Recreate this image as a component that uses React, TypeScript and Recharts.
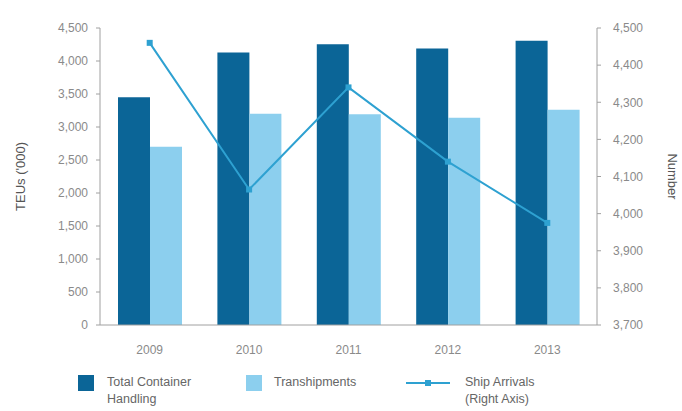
import { ComposedChart, Bar, Line, XAxis, YAxis, Legend } from 'recharts';

const years = ['2009', '2010', '2011', '2012', '2013'];
const totalHandling = [3450, 4130, 4255, 4190, 4305];
const transhipments = [2700, 3200, 3195, 3140, 3260];
const shipArrivals = [4460, 4065, 4340, 4140, 3975];

const leftTicks = [0, 500, 1000, 1500, 2000, 2500, 3000, 3500, 4000, 4500];
const rightTicks = [3700, 3800, 3900, 4000, 4100, 4200, 4300, 4400, 4500];

const DARK = '#0b6597';
const LIGHT = '#8ccfee';
const LINE = '#2ea1d1';
const AXIS = '#a0a0a0';
const TEXT = '#8a8a8a';

const data = years.map((year, i) => ({
  year,
  total: totalHandling[i],
  tranship: transhipments[i],
  arrivals: shipArrivals[i],
}));

const fmt = (v: number) => v.toLocaleString('en-US');

function SquareDot(props: any) {
  const { cx, cy } = props;
  if (cx == null || cy == null) return null;
  return <rect x={cx - 3} y={cy - 3} width={6} height={6} fill={LINE} />;
}

function ChartLegend() {
  const item = { display: 'flex', alignItems: 'flex-start', position: 'absolute' as const, top: 0 };
  const label = { fontSize: 12.5, color: '#666', lineHeight: '17px', marginTop: 1 };
  return (
    <div style={{ position: 'relative', width: 682, height: 38, fontFamily: 'Arial, "Liberation Sans", sans-serif' }}>
      <div style={{ ...item, left: 78 }}>
        <div style={{ width: 16, height: 16, background: DARK, marginTop: 2 }} />
        <div style={{ ...label, marginLeft: 13, width: 110 }}>Total Container Handling</div>
      </div>
      <div style={{ ...item, left: 246 }}>
        <div style={{ width: 16, height: 16, background: LIGHT, marginTop: 2 }} />
        <div style={{ ...label, marginLeft: 12 }}>Transhipments</div>
      </div>
      <div style={{ ...item, left: 406 }}>
        <svg width={44} height={20}>
          <line x1={0} y1={10} x2={44} y2={10} stroke={LINE} strokeWidth={2} />
          <rect x={19} y={7} width={6} height={6} fill={LINE} />
        </svg>
        <div style={{ ...label, marginLeft: 15, width: 90 }}>Ship Arrivals (Right Axis)</div>
      </div>
    </div>
  );
}

export default function App() {
  return (
    <div style={{ position: 'absolute', left: 0, top: 0, width: 682, height: 411, background: '#fff' }}>
      <ComposedChart
        width={682}
        height={411}
        data={data}
        margin={{ top: 28, right: 35, left: 40, bottom: 6 }}
        barCategoryGap={18}
        barGap={0}
        style={{ fontFamily: 'Arial, "Liberation Sans", sans-serif' }}
      >
        <XAxis
          dataKey="year"
          stroke={AXIS}
          tick={{ fill: TEXT, fontSize: 12 }}
          tickLine={false}
          tickMargin={14}
          height={42}
        />
        <YAxis
          yAxisId="left"
          orientation="left"
          width={60}
          domain={[0, 4500]}
          ticks={leftTicks}
          tickFormatter={fmt}
          stroke={AXIS}
          tick={{ fill: TEXT, fontSize: 12 }}
          tickSize={4}
          tickMargin={8}
          interval={0}
          label={{ value: "TEUs ('000)", angle: -90, position: 'insideLeft', offset: -20, style: { fill: '#555', fontSize: 13, textAnchor: 'middle' } }}
        />
        <YAxis
          yAxisId="right"
          orientation="right"
          width={50}
          domain={[3700, 4500]}
          ticks={rightTicks}
          tickFormatter={fmt}
          stroke={AXIS}
          tick={{ fill: TEXT, fontSize: 12 }}
          tickSize={4}
          tickMargin={12}
          interval={0}
          label={{ value: 'Number', angle: 90, position: 'insideRight', offset: -26, style: { fill: '#555', fontSize: 13, textAnchor: 'middle' } }}
        />
        <Legend verticalAlign="bottom" content={() => <ChartLegend />} wrapperStyle={{ left: 0, bottom: 0 }} />
        <Bar yAxisId="left" dataKey="total" name="Total Container Handling" fill={DARK} isAnimationActive={false} />
        <Bar yAxisId="left" dataKey="tranship" name="Transhipments" fill={LIGHT} isAnimationActive={false} />
        <Line
          yAxisId="right"
          dataKey="arrivals"
          name="Ship Arrivals (Right Axis)"
          stroke={LINE}
          strokeWidth={2}
          dot={<SquareDot />}
          activeDot={false}
          isAnimationActive={false}
        />
      </ComposedChart>
    </div>
  );
}
